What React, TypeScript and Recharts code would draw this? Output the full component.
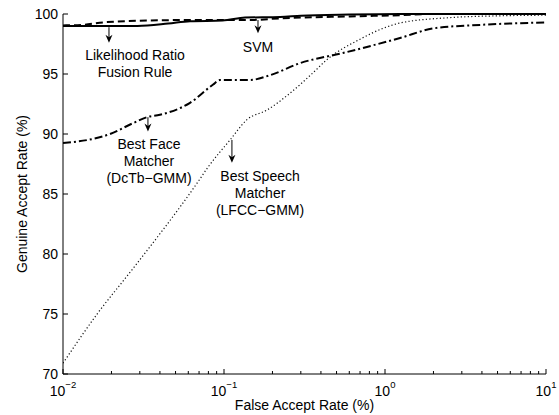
import React from 'react';
import { LineChart, Line, XAxis, YAxis, ReferenceLine, ReferenceDot } from 'recharts';

const FONT = '"Liberation Sans", Arial, Helvetica, sans-serif';

// False accept rate (%) / genuine accept rate (%) for each system
const fusionFar = [0.01, 0.029, 0.045, 0.0615, 0.098, 0.135, 0.223, 0.3, 0.6, 1.24, 10];
const fusionGar = [99.0, 99.0, 99.2, 99.4, 99.45, 99.7, 99.75, 99.85, 99.95, 100, 100];

const svmFar = [0.01, 0.0133, 0.0177, 0.033, 0.064, 0.145, 0.23, 0.607, 1.24, 2.0, 10];
const svmGar = [99.05, 99.1, 99.3, 99.45, 99.5, 99.5, 99.65, 99.8, 99.9, 100, 100];

const faceFar = [0.01, 0.0196, 0.0272, 0.0332, 0.04, 0.0615, 0.0852, 0.0943, 0.145, 0.193, 0.296, 0.548, 1.24, 2.0, 4.0, 10];
const faceGar = [89.25, 90.0, 90.9, 91.4, 91.6, 92.6, 94.1, 94.5, 94.5, 94.9, 95.9, 96.75, 98.0, 98.8, 99.1, 99.3];

const speechFar = [0.01, 0.0165, 0.0269, 0.068, 0.0797, 0.109, 0.139, 0.185, 0.257, 0.357, 0.436, 0.7, 0.97, 1.24, 2.54, 5.17, 10];
const speechGar = [70.9, 75.1, 78.7, 85.9, 87.25, 89.5, 91.2, 92.0, 93.4, 95.1, 96.2, 97.9, 98.8, 99.25, 99.7, 99.85, 99.9];

// log axis ticks: decades get labels, the rest are minor marks
const xTicks = [
  0.01, 0.02, 0.03, 0.04, 0.05, 0.06, 0.07, 0.08, 0.09,
  0.1, 0.2, 0.3, 0.4, 0.5, 0.6, 0.7, 0.8, 0.9,
  1, 2, 3, 4, 5, 6, 7, 8, 9, 10,
];
const yTicks = [70, 75, 80, 85, 90, 95, 100];

// annotation arrows (x, from y, to y) and their captions
const arrows = [
  { x: 0.0193, from: 98.9, to: 97.6 },
  { x: 0.1626, from: 99.5, to: 98.4 },
  { x: 0.0337, from: 91.4, to: 90.2 },
  { x: 0.112, from: 89.5, to: 87.6 },
];
const captions = [
  { x: 0.028, y: 96.6, lines: ['Likelihood Ratio', 'Fusion Rule'] },
  { x: 0.1626, y: 97.25, lines: ['SVM'] },
  { x: 0.0342, y: 89.17, lines: ['Best Face', 'Matcher', '(DcTb\u2212GMM)'] },
  { x: 0.1675, y: 86.5, lines: ['Best Speech', 'Matcher', '(LFCC\u2212GMM)'] },
];

const toPoints = (xs: number[], ys: number[]) => xs.map((x, i) => ({ x, y: ys[i] }));

const isDecade = (v: number) => {
  const e = Math.log10(v);
  return Math.abs(e - Math.round(e)) < 1e-6;
};

function BottomTick(props: any) {
  const { x, y, payload } = props;
  const major = isDecade(payload.value);
  const exp = Math.round(Math.log10(payload.value));
  return (
    <g>
      <line x1={x} y1={y} x2={x} y2={y - (major ? 5 : 3)} stroke="#000" />
      {major && (
        <text x={x} y={y + 22} textAnchor="middle" fontSize={14} fontFamily={FONT} fill="#000">
          <tspan>10</tspan>
          <tspan dy={-8} fontSize={9.5}>{String(exp).replace('-', '\u2212')}</tspan>
        </text>
      )}
    </g>
  );
}

function TopTick(props: any) {
  const { x, y, payload } = props;
  const major = isDecade(payload.value);
  return <line x1={x} y1={y} x2={x} y2={y + (major ? 5 : 3)} stroke="#000" />;
}

function LeftTick(props: any) {
  const { x, y, payload } = props;
  return (
    <g>
      <line x1={x} y1={y} x2={x + 5} y2={y} stroke="#000" />
      <text x={x - 5} y={y} dy="0.35em" textAnchor="end" fontSize={14} fontFamily={FONT} fill="#000">
        {payload.value}
      </text>
    </g>
  );
}

function RightTick(props: any) {
  const { x, y } = props;
  return <line x1={x} y1={y} x2={x - 5} y2={y} stroke="#000" />;
}

function Arrow(props: any) {
  const { x1, y1, x2, y2 } = props;
  return (
    <g>
      <line x1={x1} y1={y1} x2={x2} y2={y2 - 4} stroke="#000" strokeWidth={1} />
      <path d={`M${x2},${y2} L${x2 - 3.5},${y2 - 8} L${x2},${y2 - 5.5} L${x2 + 3.5},${y2 - 8} Z`} fill="#000" />
    </g>
  );
}

const captionShape = (lines: string[]) => (props: any) => {
  const { cx, cy } = props;
  return (
    <text x={cx} y={cy} textAnchor="middle" fontSize={14} fontFamily={FONT} fill="#000">
      {lines.map((l, i) => (
        <tspan key={i} x={cx} dy={i === 0 ? '0.35em' : 17}>
          {l}
        </tspan>
      ))}
    </text>
  );
};

export default function App() {
  return (
    <div style={{ position: 'absolute', left: 0, top: 0, background: '#fff' }}>
      <LineChart width={559} height={415} margin={{ top: 14, right: 13, bottom: 0, left: 0 }}>
        <XAxis
          dataKey="x"
          type="number"
          scale="log"
          domain={[0.01, 10]}
          allowDataOverflow
          ticks={xTicks}
          interval={0}
          height={41}
          tickSize={0}
          tickMargin={0}
          tickLine={false}
          axisLine={{ stroke: '#000' }}
          tick={<BottomTick />}
          label={{
            content: ({ viewBox }: any) => (
              <text
                x={viewBox.x + viewBox.width / 2}
                y={viewBox.y + 36}
                textAnchor="middle"
                fontSize={14}
                fontFamily={FONT}
                fill="#000"
              >
                False Accept Rate (%)
              </text>
            ),
          }}
        />
        <XAxis
          xAxisId="top"
          orientation="top"
          dataKey="x"
          type="number"
          scale="log"
          domain={[0.01, 10]}
          allowDataOverflow
          ticks={xTicks}
          interval={0}
          height={0}
          tickSize={0}
          tickMargin={0}
          tickLine={false}
          axisLine={{ stroke: '#000' }}
          tick={<TopTick />}
        />
        <YAxis
          type="number"
          domain={[70, 100]}
          ticks={yTicks}
          interval={0}
          width={63}
          tickSize={0}
          tickMargin={0}
          tickLine={false}
          axisLine={{ stroke: '#000' }}
          tick={<LeftTick />}
          label={{
            content: ({ viewBox }: any) => {
              const cx = viewBox.x + 22;
              const cy = viewBox.y + viewBox.height / 2;
              return (
                <text
                  x={cx}
                  y={cy}
                  dy="0.35em"
                  transform={`rotate(-90, ${cx}, ${cy})`}
                  textAnchor="middle"
                  fontSize={14}
                  fontFamily={FONT}
                  fill="#000"
                >
                  Genuine Accept Rate (%)
                </text>
              );
            },
          }}
        />
        <YAxis
          yAxisId="right"
          orientation="right"
          type="number"
          domain={[70, 100]}
          ticks={yTicks}
          interval={0}
          width={0}
          tickSize={0}
          tickMargin={0}
          tickLine={false}
          axisLine={{ stroke: '#000' }}
          tick={<RightTick />}
        />

        <Line
          data={toPoints(speechFar, speechGar)}
          dataKey="y"
          type="monotone"
          stroke="#111"
          strokeWidth={1.2}
          strokeDasharray="1.2 2.3"
          dot={false}
          isAnimationActive={false}
        />
        <Line
          data={toPoints(faceFar, faceGar)}
          dataKey="y"
          type="monotone"
          stroke="#000"
          strokeWidth={2}
          strokeDasharray="8 3 2 3"
          dot={false}
          isAnimationActive={false}
        />
        <Line
          data={toPoints(svmFar, svmGar)}
          dataKey="y"
          type="monotone"
          stroke="#000"
          strokeWidth={2}
          strokeDasharray="7 4"
          dot={false}
          isAnimationActive={false}
        />
        <Line
          data={toPoints(fusionFar, fusionGar)}
          dataKey="y"
          type="monotone"
          stroke="#000"
          strokeWidth={2}
          dot={false}
          isAnimationActive={false}
        />

        {arrows.map((a, i) => (
          <ReferenceLine
            key={`a${i}`}
            segment={[
              { x: a.x, y: a.from },
              { x: a.x, y: a.to },
            ]}
            ifOverflow="visible"
            shape={Arrow}
          />
        ))}
        {captions.map((c, i) => (
          <ReferenceDot
            key={`c${i}`}
            x={c.x}
            y={c.y}
            r={0}
            ifOverflow="visible"
            shape={captionShape(c.lines)}
          />
        ))}
      </LineChart>
    </div>
  );
}
